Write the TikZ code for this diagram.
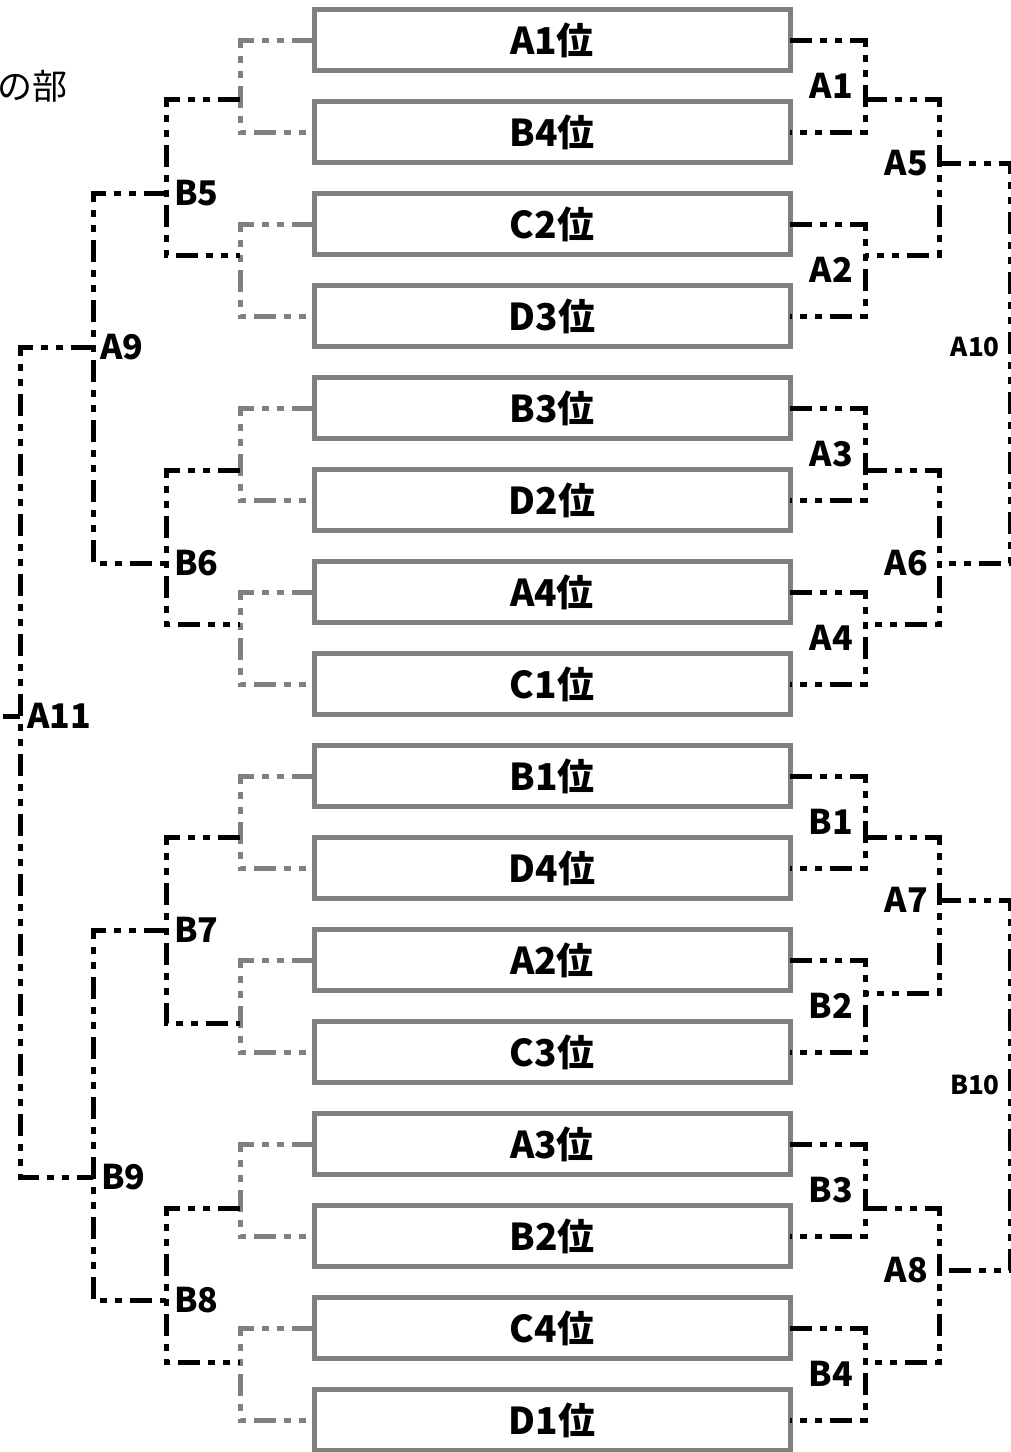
\documentclass[tikz,border=0pt]{standalone}
\usepackage{fontspec}
\setmainfont{Noto Sans CJK JP}
\usetikzlibrary{calc}
\definecolor{boxgray}{RGB}{128,128,128}
\begin{document}
\begin{tikzpicture}[x=1pt,y=-1pt,
  box/.style={draw=boxgray, line width=5pt, minimum width=476pt, minimum height=61pt,
    inner sep=0pt, outer sep=0pt, font=\fontsize{37}{40}\selectfont\bfseries},
  lbl/.style={inner sep=0pt, font=\fontsize{34}{36}\selectfont\bfseries},
  slbl/.style={inner sep=0pt, font=\fontsize{26}{28}\selectfont\bfseries},
  ddot/.style={line width=5pt, dash pattern=on 22pt off 8pt on 7pt off 8pt on 7pt off 8pt},
  gline/.style={ddot, draw=boxgray},
  bline/.style={ddot, draw=black}]
\useasboundingbox (0,0) rectangle (1011,1452);
% title fragment
\node[inner sep=0pt, anchor=east, font=\fontsize{35}{38}\selectfont] (title) at (68,86) {の部};
% boxes
\foreach \t [count=\i] in {A1位,B4位,C2位,D3位,B3位,D2位,A4位,C1位,B1位,D4位,A2位,C3位,A3位,B2位,C4位,D1位}
  \node[box] (b\i) at (552,{40+92*(\i-1)}) {\t};
% first level, left (gray) and right (black)
\foreach \i/\lab [count=\k from 0] in {1/A1,3/A2,5/A3,7/A4,9/B1,11/B2,13/B3,15/B4} {
  \pgfmathtruncatemacro\j{\i+1}
  \draw[gline] (b\i.west) -- ++(-74,0) |- (b\j.west);
  \draw[bline] (b\i.east) -- ++(75,0) |- (b\j.east);
  \node[lbl, anchor=east] (r\lab) at (853,{86+184*\k}) {\lab};
}
% second level, left
\foreach \t/\b/\m/\name in {99/255/193/B5, 470/624/563/B6, 837/1023/930/B7, 1208/1362/1300/B8} {
  \coordinate (\name t) at (240,\t);
  \coordinate (\name b) at (240,\b);
  \draw[bline] (\name t) -- ++(-74,0) |- (\name b);
  \node[lbl, anchor=west] (\name) at (174,\m) {\name};
  \coordinate (\name m) at (166,\m);
}
% second level, right
\foreach \t/\b/\m/\name in {99/255/163/A5, 470/624/563/A6, 837/993/900/A7, 1208/1362/1270/A8} {
  \coordinate (\name t) at (865,\t);
  \coordinate (\name b) at (865,\b);
  \draw[bline] (\name t) -- ++(74,0) |- (\name b);
  \node[lbl, anchor=east] (\name) at (928,\m) {\name};
  \coordinate (\name m) at (939,\m);
}
% third level, left
\draw[bline] (B5m) -- ++(-73,0) |- (B6m);
\node[lbl, anchor=west] (A9) at (100,347) {A9};
\coordinate (A9m) at (93,347);
\draw[bline] (B7m) -- ++(-73,0) |- (B8m);
\node[lbl, anchor=west] (B9) at (101,1177) {B9};
\coordinate (B9m) at (93,1177);
% fourth level, left
\draw[bline] (A9m) -- ++(-73,0) |- (B9m);
\node[lbl, anchor=west] (A11) at (27,716) {A11};
\coordinate (A11m) at (20,716);
\coordinate (A11e) at (3,716);
\draw[line width=5pt] (A11e) -- (A11m);
% third level, right
\draw[bline] (A5m) -- ++(71,0) |- (A6m);
\node[slbl, anchor=east] (A10) at (1000,347) {A10};
\draw[bline] (A7m) -- ++(71,0) |- (A8m);
\node[slbl, anchor=east] (B10) at (1000,1085) {B10};
\end{tikzpicture}
\end{document}
